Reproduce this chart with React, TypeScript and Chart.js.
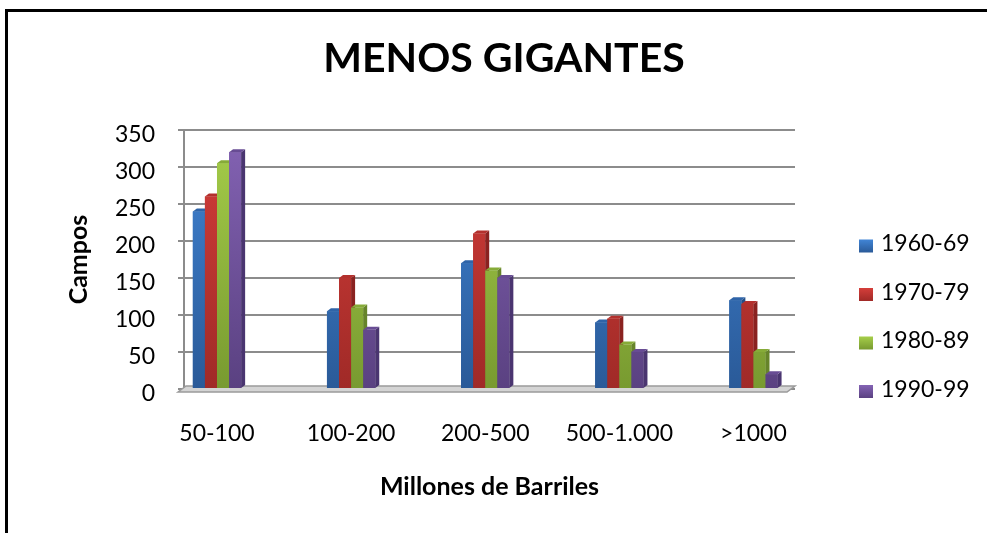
import React, { useEffect, useRef } from "react";
import { Chart, registerables } from "chart.js";

Chart.register(...registerables);

const categories = ["50-100", "100-200", "200-500", "500-1.000", ">1000"];
const seriesLabels = ["1960-69", "1970-79", "1980-89", "1990-99"];
const s1960 = [240, 105, 170, 90, 120];
const s1970 = [260, 150, 210, 95, 115];
const s1980 = [305, 110, 160, 60, 50];
const s1990 = [320, 80, 150, 50, 20];
const yTicks = [0, 50, 100, 150, 200, 250, 300, 350];

const topColors = ["#4185d6", "#d53e3a", "#a6ce4a", "#8463b4"];
const bottomColors = ["#2a5a98", "#a02a27", "#789a30", "#5a4181"];
const sideColors = ["#244f86", "#8a2220", "#66842a", "#4a3570"];
const capColors = ["#2f64a8", "#b3302d", "#86ab38", "#684c94"];

const FONT = "Lato, 'Open Sans', sans-serif";

function grad(ctx: CanvasRenderingContext2D, top: number, bottom: number, i: number) {
  const g = ctx.createLinearGradient(0, top, 0, bottom);
  g.addColorStop(0, topColors[i]);
  g.addColorStop(1, bottomColors[i]);
  return g;
}

const bars3d = {
  id: "bars3d",
  beforeDatasetsDraw(chart: any) {
    const { ctx, chartArea } = chart;
    const L = chartArea.left, R = chartArea.right, B = chartArea.bottom;
    ctx.save();
    ctx.beginPath();
    ctx.moveTo(L - 6, B + 3);
    ctx.lineTo(L + 2, B - 3);
    ctx.lineTo(R, B - 3);
    ctx.lineTo(R - 8, B + 3);
    ctx.closePath();
    ctx.fillStyle = "#d4d4d4";
    ctx.fill();
    ctx.strokeStyle = "#9a9a9a";
    ctx.lineWidth = 1.5;
    ctx.stroke();
    ctx.restore();
  },
  afterDatasetsDraw(chart: any) {
    const { ctx, chartArea } = chart;
    const n = chart.data.labels.length;
    const dsCount = chart.data.datasets.length;
    const d = 4, dy = 3;
    ctx.save();
    for (let j = 0; j < n; j++) {
      for (let i = 0; i < dsCount; i++) {
        const el = chart.getDatasetMeta(i).data[j];
        if (!el) continue;
        const { x, y, base, width } = el.getProps(["x", "y", "base", "width"], true);
        const x0 = x - width / 2, x1 = x + width / 2;
        ctx.fillStyle = grad(ctx, chartArea.top, chartArea.bottom, i);
        ctx.fillRect(x0, y, width, base - y);
        ctx.beginPath();
        ctx.moveTo(x1, y);
        ctx.lineTo(x1 + d, y - dy);
        ctx.lineTo(x1 + d, base - dy);
        ctx.lineTo(x1, base);
        ctx.closePath();
        ctx.fillStyle = sideColors[i];
        ctx.fill();
        ctx.beginPath();
        ctx.moveTo(x0, y);
        ctx.lineTo(x0 + d, y - dy);
        ctx.lineTo(x1 + d, y - dy);
        ctx.lineTo(x1, y);
        ctx.closePath();
        ctx.fillStyle = capColors[i];
        ctx.fill();
      }
    }
    ctx.restore();
  },
  afterDraw(chart: any) {
    const { ctx, chartArea } = chart;
    const x0 = chartArea.right + 64;
    const yStart = chartArea.top + 116;
    const step = 48.5;
    ctx.save();
    ctx.font = `23px ${FONT}`;
    ctx.textBaseline = "middle";
    ctx.textAlign = "left";
    chart.data.datasets.forEach((ds: any, i: number) => {
      const cy = yStart + i * step;
      const g = ctx.createLinearGradient(0, cy - 6.5, 0, cy + 6.5);
      g.addColorStop(0, topColors[i]);
      g.addColorStop(1, bottomColors[i]);
      ctx.fillStyle = g;
      ctx.fillRect(x0, cy - 6.5, 14, 13);
      ctx.fillStyle = "#000";
      ctx.fillText(ds.label, x0 + 22, cy - 2);
    });
    ctx.restore();
  },
};

export default function App() {
  const ref = useRef<HTMLCanvasElement | null>(null);
  useEffect(() => {
    const canvas = ref.current!;
    const series = [s1960, s1970, s1980, s1990];
    const chart = new Chart(canvas, {
      type: "bar",
      plugins: [bars3d],
      data: {
        labels: categories,
        datasets: series.map((vals, i) => ({
          label: seriesLabels[i],
          data: vals.map((v, k) => ({ x: k, y: v })),
          backgroundColor: (c: any) => {
            const a = c.chart.chartArea;
            if (!a) return topColors[i];
            return grad(c.chart.ctx, a.top, a.bottom, i);
          },
          borderWidth: 0,
          categoryPercentage: 0.36,
          barPercentage: 1,
        })),
      },
      options: {
        animation: false,
        responsive: false,
        events: [],
        layout: { padding: { left: 60, right: 39, top: 12, bottom: 21 } },
        plugins: {
          legend: { display: false },
          tooltip: { enabled: false },
          title: {
            display: true,
            text: "MENOS GIGANTES",
            color: "#000",
            font: { family: FONT, size: 41, weight: "bold" },
            padding: { top: 22, bottom: 46.8 },
          },
        },
        scales: {
          x: {
            type: "linear",
            offset: false,
            bounds: "ticks",
            min: -0.246,
            max: 4.31,
            afterBuildTicks: (axis: any) => {
              axis.ticks = categories.map((_, k) => ({ value: k }));
            },
            afterFit: (s: any) => {
              s.height = 123;
            },
            grid: { display: false, drawTicks: false },
            border: { display: false },
            ticks: {
              autoSkip: false,
              maxRotation: 0,
              padding: 31,
              color: "#000",
              font: { family: FONT, size: 23 },
              callback: (v: any) => categories[v as number] ?? "",
            },
            title: {
              display: true,
              text: "Millones de Barriles",
              color: "#000",
              font: { family: FONT, size: 25, weight: "bold" },
              padding: { top: 0, bottom: 10 },
            },
          },
          y: {
            min: 0,
            max: 350,
            afterBuildTicks: (axis: any) => {
              axis.ticks = yTicks.map((v) => ({ value: v }));
            },
            afterFit: (s: any) => {
              s.width = 124;
            },
            grid: { color: "#8c8c8c", lineWidth: 2, tickLength: 6, tickColor: "#8c8c8c" },
            border: { color: "#8c8c8c", width: 2 },
            ticks: {
              padding: 23,
              labelOffset: 5,
              color: "#000",
              font: { family: FONT, size: 23 },
            },
            title: {
              display: true,
              text: "Campos",
              color: "#000",
              font: { family: FONT, size: 25, weight: "bold" },
              padding: { top: 4, bottom: 0 },
            },
          },
          y2: {
            position: "right",
            display: true,
            grid: { display: false, drawTicks: false },
            border: { display: false },
            ticks: { display: false },
            afterFit: (s: any) => {
              s.width = 153;
            },
          },
        },
      } as any,
    });
    return () => chart.destroy();
  }, []);

  return (
    <div style={{ position: "fixed", left: 0, top: 0, width: 987, height: 533, overflow: "hidden", background: "#fff" }}>
      <canvas ref={ref} width={987} height={533} style={{ position: "absolute", left: 0, top: 0, width: 987, height: 533 }} />
      <div
        style={{
          position: "absolute",
          left: 5,
          top: 9,
          width: 1000,
          height: 600,
          borderLeft: "3px solid #000",
          borderTop: "3px solid #000",
          pointerEvents: "none",
        }}
      />
    </div>
  );
}
